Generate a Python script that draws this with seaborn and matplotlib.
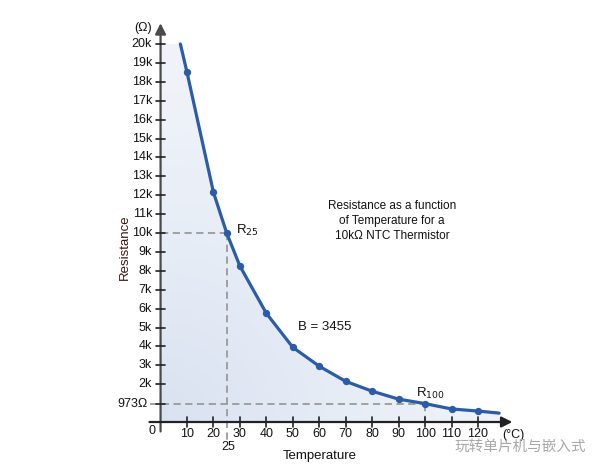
import numpy as np
import matplotlib
matplotlib.use("Agg")
import matplotlib.pyplot as plt
import seaborn as sns
from matplotlib.patches import Polygon
from matplotlib.colors import LinearSegmentedColormap

# NTC 10k thermistor, B = 3455
curve_temp = [7.5, 10, 20, 25, 30, 40, 50, 60, 70, 80, 90, 100, 110, 120, 128]
curve_res = [20000, 18500, 12150, 10000, 8250, 5750, 3950, 2950, 2150, 1630, 1210, 973, 690, 580, 470]
mark_temp = [10, 20, 25, 30, 40, 50, 60, 70, 80, 90, 100, 110, 120]
mark_res = [18500, 12150, 10000, 8250, 5750, 3950, 2950, 2150, 1630, 1210, 973, 690, 580]
y_ticks = list(range(2000, 21000, 1000))
y_tick_labels = [f"{v // 1000}k" for v in y_ticks]
x_ticks = list(range(10, 130, 10))

sns.set_theme(style="white")
plt.rcParams["font.family"] = ["Liberation Sans", "DejaVu Sans"]

fig = plt.figure(figsize=(6.06, 4.73), dpi=100)
ax = fig.add_axes([0, 0, 1, 1])
ax.set_xlim(-60.7, 168.4)
ax.set_ylim(-2698, 22328)
ax.axis("off")

axis_col = "#4a4a4a"
line_col = "#2b5ca8"
dash_col = "#9a9a9a"
fs = 9

# gradient fill under the curve
poly_pts = [(0, 0), (0, 20000)] + list(zip(curve_temp, curve_res)) + [(curve_temp[-1], 0)]
gx = np.linspace(0, 130, 300)
gy = np.linspace(0, 20500, 300)
GX, GY = np.meshgrid(gx, gy)
dist = np.sqrt((GX * 2.645) ** 2 + (GY * 0.0189) ** 2)
cmap = LinearSegmentedColormap.from_list("fill", ["#d9e2f1", "#e6ecf6", "#eff3f9"])
img = ax.imshow(dist, origin="lower", extent=(0, 130, 0, 20500), aspect="auto",
                cmap=cmap, vmin=0, vmax=330, zorder=1, interpolation="bilinear")
patch = Polygon(poly_pts, closed=True, facecolor="none", edgecolor="none")
ax.add_patch(patch)
img.set_clip_path(patch)

# dashed guide lines
dash = (0, (4, 2.5))
ax.plot([0, 25], [10000, 10000], color=dash_col, lw=1.3, ls=dash, zorder=2)
ax.plot([25, 25], [10000, -950], color=dash_col, lw=1.3, ls=dash, zorder=2)
ax.plot([-4, 100], [973, 973], color=dash_col, lw=1.3, ls=dash, zorder=2)
ax.plot([100, 100], [973, -250], color=dash_col, lw=1.3, ls=dash, zorder=2)

# curve and points
sns.lineplot(x=curve_temp, y=curve_res, ax=ax, color=line_col, lw=2.3, sort=False,
             estimator=None, zorder=4)
sns.scatterplot(x=mark_temp, y=mark_res, ax=ax, color=line_col, s=28, edgecolor=line_col,
                linewidth=0, zorder=5)

# axes with arrows
ax.annotate("", xy=(0, 21100), xytext=(0, -500),
            arrowprops=dict(arrowstyle="-|>", color=axis_col, lw=1.6, mutation_scale=16,
                            shrinkA=0, shrinkB=0), zorder=3)
ax.annotate("", xy=(133, 0), xytext=(-4.2, 0),
            arrowprops=dict(arrowstyle="-|>", color="#222222", lw=1.6, mutation_scale=16,
                            shrinkA=0, shrinkB=0), zorder=3)

for v, lab in zip(y_ticks, y_tick_labels):
    ax.plot([-1.6, 1.6], [v, v], color="#222222", lw=1.2, zorder=3)
    ax.text(-3.2, v, lab, ha="right", va="center", fontsize=fs, color="#111111")
ax.plot([-1.6, 1.6], [973, 973], color="#222222", lw=1.2, zorder=3)
ax.text(-4.8, 973, "973Ω", ha="right", va="center", fontsize=fs, color="#111111")

for v in x_ticks:
    ax.plot([v, v], [-240, 240], color="#222222", lw=1.2, zorder=3)
    ax.text(v, -660, str(v), ha="center", va="center", fontsize=fs, color="#111111")
ax.text(-3.4, -480, "0", ha="center", va="center", fontsize=fs, color="#111111")
ax.text(25.5, -1340, "25", ha="center", va="center", fontsize=fs, color="#111111")

ax.text(-6.8, 20850, "(Ω)", ha="center", va="center", fontsize=fs, color="#111111")
ax.text(133.3, -690, "(°C)", ha="center", va="center", fontsize=fs, color="#111111")
ax.text(60.2, -1800, "Temperature", ha="center", va="center", fontsize=9.5, color="#111111")
ax.text(-13.6, 9230, "Resistance", ha="center", va="center", rotation=90, fontsize=9.5,
        color="#3a1414")

# annotations
ax.text(87.5, 10650, "Resistance as a function\nof Temperature for a\n10kΩ NTC Thermistor",
        ha="center", va="center", fontsize=8.5, linespacing=1.35, color="#111111")
ax.text(52, 5030, "B = 3455", ha="left", va="center", fontsize=9.5, color="#111111")
ax.text(28.5, 10150, "R$_{25}$", ha="left", va="center", fontsize=9.5, color="#111111")
ax.text(96.5, 1530, "R$_{100}$", ha="left", va="center", fontsize=9.5, color="#111111")

# source mark
ax.text(136, -1300, "玩转单片机与嵌入式", ha="center", va="center", fontsize=10.5,
        color="#a8a8a8", family=["Noto Sans CJK SC", "DejaVu Sans"])

fig.savefig("out.png", dpi=100)
